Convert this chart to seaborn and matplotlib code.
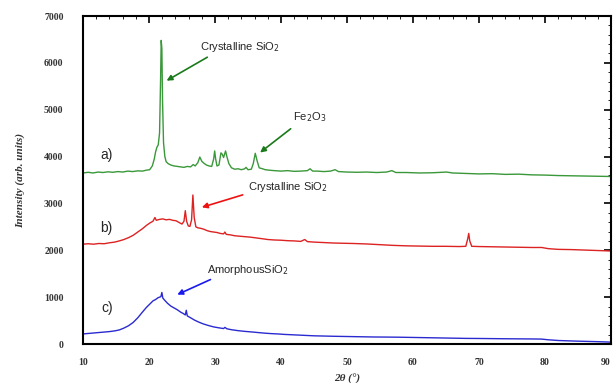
import matplotlib
matplotlib.use("Agg")
import matplotlib.pyplot as plt
import seaborn as sns
import pandas as pd
from matplotlib.ticker import MultipleLocator

# ---- data ----
green_x = [10.0, 10.8, 11.5, 12.3, 13.0, 13.8, 14.5, 15.3, 16.0, 16.8, 17.5, 18.3, 19.0, 19.6, 20.1,
           20.5, 20.8, 21.0, 21.2, 21.4, 21.6, 21.75, 21.85, 21.95, 22.05, 22.2, 22.4, 22.6, 22.9,
           23.3, 23.8, 24.3, 24.8, 25.3, 25.8, 26.3, 26.7, 27.0, 27.4, 27.7, 28.0, 28.3, 28.7, 29.1,
           29.5, 29.8, 29.95, 30.1, 30.3, 30.6, 30.9, 31.1, 31.3, 31.6, 31.8, 32.1, 32.5, 33.0, 33.5,
           34.0, 34.5, 34.7, 35.0, 35.5, 35.8, 36.1, 36.4, 36.7, 37.2, 37.6, 38.2, 39.0, 40.0, 41.0,
           42.0, 43.0, 44.0, 44.4, 44.8, 45.5, 46.5, 47.5, 48.2, 48.7, 50.0, 51.5, 53.0, 54.5, 56.0,
           56.8, 57.4, 59.0, 61.0, 63.0, 65.1, 66.0, 68.0, 70.0, 72.0, 74.0, 76.0, 78.0, 80.0, 82.0,
           84.0, 86.0, 88.0, 90.0]
green_y = [3650, 3665, 3650, 3670, 3660, 3675, 3665, 3680, 3670, 3690, 3680, 3695, 3690, 3710, 3720,
           3800, 3950, 4100, 4200, 4250, 4500, 5600, 6480, 6300, 5200, 4300, 4000, 3890, 3850,
           3820, 3800, 3790, 3780, 3770, 3790, 3780, 3830, 3800, 3870, 3990, 3900, 3860, 3820, 3800,
           3790, 3950, 4120, 3950, 3800, 3820, 4080, 4050, 3980, 4120, 4000, 3850, 3760, 3730, 3740,
           3720, 3740, 3770, 3720, 3730, 3850, 4070, 3900, 3760, 3740, 3720, 3710, 3700, 3690, 3700,
           3685, 3690, 3700, 3740, 3690, 3690, 3680, 3690, 3720, 3680, 3670, 3665, 3670, 3660, 3670,
           3700, 3660, 3660, 3650, 3655, 3670, 3650, 3640, 3630, 3635, 3620, 3625, 3610, 3605, 3595,
           3590, 3585, 3580, 3575]

red_x = [10.0, 10.8, 11.6, 12.4, 13.2, 14.0, 14.8, 15.5, 16.2, 16.9, 17.6, 18.3, 19.0, 19.6, 20.1,
         20.6, 20.9, 21.1, 21.6, 22.1, 22.6, 23.1, 23.6, 24.1, 24.6, 25.0, 25.3, 25.5, 25.7, 25.95,
         26.2, 26.45, 26.65, 26.85, 27.1, 27.4, 27.8, 28.3, 28.8, 29.3, 29.8, 30.3, 30.8, 31.3, 31.5,
         31.7, 32.3, 33.0, 33.8, 34.6, 35.4, 36.2, 37.0, 38.0, 39.0, 40.0, 41.0, 42.0, 43.0, 43.6,
         44.0, 45.0, 46.5, 48.0, 49.5, 51.0, 53.0, 55.0, 57.0, 59.0, 61.0, 63.0, 65.0, 67.0, 68.0,
         68.3, 68.45, 68.6, 68.9, 70.0, 72.0, 74.0, 76.0, 78.0, 79.5, 80.5, 82.0, 84.0, 86.0, 88.0, 90.0]
red_y = [2130, 2140, 2130, 2145, 2140, 2160, 2175, 2200, 2230, 2270, 2320, 2390, 2460, 2530, 2580,
         2620, 2700, 2640, 2660, 2670, 2650, 2660, 2640, 2630, 2590, 2560, 2620, 2845, 2620, 2520,
         2510, 2650, 3180, 2700, 2500, 2480, 2470, 2450, 2420, 2400, 2390, 2380, 2360, 2350, 2390,
         2340, 2330, 2310, 2300, 2290, 2280, 2265, 2250, 2230, 2220, 2215, 2205, 2200, 2190, 2230,
         2185, 2175, 2165, 2155, 2150, 2145, 2135, 2120, 2105, 2095, 2090, 2085, 2085, 2080, 2085,
         2250, 2360, 2200, 2085, 2080, 2075, 2070, 2065, 2060, 2060, 2035, 2020, 2015, 2005, 1995, 1985]

blue_x = [10.0, 10.8, 11.6, 12.4, 13.2, 14.0, 14.8, 15.5, 16.2, 16.9, 17.6, 18.3, 19.0, 19.6, 20.1,
          20.6, 21.0, 21.4, 21.8, 21.95, 22.1, 22.4, 22.8, 23.3, 23.8, 24.3, 24.8, 25.2, 25.5, 25.65,
          25.8, 26.3, 26.9, 27.5, 28.2, 29.0, 29.8, 30.6, 31.3, 31.5, 31.8, 32.5, 33.5, 34.5, 35.5,
          36.5, 37.5, 38.5, 39.5, 40.5, 42.0, 43.5, 45.0, 46.5, 48.0, 50.0, 52.0, 54.0, 56.0, 58.0,
          60.0, 62.0, 64.0, 66.0, 68.0, 70.0, 72.0, 74.0, 76.0, 78.0, 79.5, 80.5, 82.0, 84.0, 86.0,
          88.0, 90.0]
blue_y = [215, 225, 235, 245, 255, 265, 280, 300, 340, 390, 460, 560, 680, 780, 850,
          920, 950, 990, 1010, 1100, 980, 930, 870, 810, 770, 730, 680, 650, 620, 720,
          600, 560, 510, 470, 430, 395, 365, 345, 330, 355, 325, 305, 285, 270, 258,
          245, 232, 222, 215, 205, 195, 185, 175, 170, 165, 160, 155, 150, 148, 145,
          140, 135, 130, 125, 120, 118, 115, 112, 110, 108, 105, 90, 75, 65, 57,
          50, 40]

samples = ["a)", "b)", "c)"]
colors = {"a)": "#3a983a", "b)": "#dd2222", "c)": "#2a2ad0"}
x_ticks = [10, 20, 30, 40, 50, 60, 70, 80, 90]
y_ticks = [0, 1000, 2000, 3000, 4000, 5000, 6000, 7000]

df = pd.concat([
    pd.DataFrame({"two_theta": green_x, "intensity": green_y, "sample": "a)"}),
    pd.DataFrame({"two_theta": red_x, "intensity": red_y, "sample": "b)"}),
    pd.DataFrame({"two_theta": blue_x, "intensity": blue_y, "sample": "c)"}),
], ignore_index=True)

# ---- plot ----
sns.set_style("white")
plt.rcParams["font.family"] = ["Liberation Sans", "DejaVu Sans"]

fig = plt.figure(figsize=(6.13, 3.83), dpi=100)
ax = fig.add_axes([0.1354, 0.1018, 0.8613, 0.8564])

sns.lineplot(data=df, x="two_theta", y="intensity", hue="sample", palette=colors,
             estimator=None, sort=False, linewidth=1.0, legend=False, ax=ax)

ax.set_xlim(10, 90)
ax.set_ylim(0, 7000)
ax.set_xticks(x_ticks)
ax.set_yticks(y_ticks)
ax.xaxis.set_minor_locator(MultipleLocator(2))
ax.yaxis.set_minor_locator(MultipleLocator(200))
ax.tick_params(which="both", direction="in", top=True, right=True, color="black")
ax.tick_params(which="major", length=5, width=1.2)
ax.tick_params(which="minor", length=2.5, width=0.6)
ax.tick_params(axis="x", which="major", labelsize=7, pad=10)
ax.tick_params(axis="y", which="major", labelsize=7, pad=14)
for lab in ax.get_xticklabels() + ax.get_yticklabels():
    lab.set_fontfamily("Liberation Serif")
    lab.set_fontweight("bold")
    lab.set_color("#333333")
ax.get_xticklabels()[-1].set_horizontalalignment("right")

for sp in ax.spines.values():
    sp.set_linewidth(1.5)
    sp.set_color("black")

ax.set_xlabel("2θ (°)", fontfamily="Liberation Serif", fontweight="bold",
              fontstyle="italic", fontsize=8, color="#333333", labelpad=5)
ax.set_ylabel("Intensity (arb. units)", fontfamily="Liberation Serif", fontweight="bold",
              fontstyle="italic", fontsize=8, color="#333333", labelpad=14)

# sample labels
ax.text(13.6, 4030, "a)", fontsize=10, va="center", ha="center")
ax.text(13.6, 2480, "b)", fontsize=10, va="center", ha="center")
ax.text(13.6, 770, "c)", fontsize=10, va="center", ha="center")

# annotations
ax.annotate("", xy=(22.3, 5590), xytext=(29.2, 6150),
            arrowprops=dict(arrowstyle="-|>", color="#1a7a1a", lw=1.2, mutation_scale=8))
ax.text(27.8, 6330, "Crystalline SiO$_2$", fontsize=8, va="center", ha="left")

ax.annotate("", xy=(36.5, 4050), xytext=(41.8, 4630),
            arrowprops=dict(arrowstyle="-|>", color="#1a7a1a", lw=1.2, mutation_scale=8))
ax.text(41.8, 4840, "Fe$_2$O$_3$", fontsize=8, va="center", ha="left")

ax.annotate("", xy=(27.6, 2900), xytext=(34.6, 3200),
            arrowprops=dict(arrowstyle="-|>", color="#ee1111", lw=1.2, mutation_scale=8))
ax.text(35.0, 3360, "Crystalline SiO$_2$", fontsize=8, va="center", ha="left")

ax.annotate("", xy=(23.9, 1030), xytext=(29.7, 1400),
            arrowprops=dict(arrowstyle="-|>", color="#1a1aee", lw=1.2, mutation_scale=8))
ax.text(28.8, 1580, "AmorphousSiO$_2$", fontsize=8, va="center", ha="left")

fig.savefig("out.png", dpi=100)
